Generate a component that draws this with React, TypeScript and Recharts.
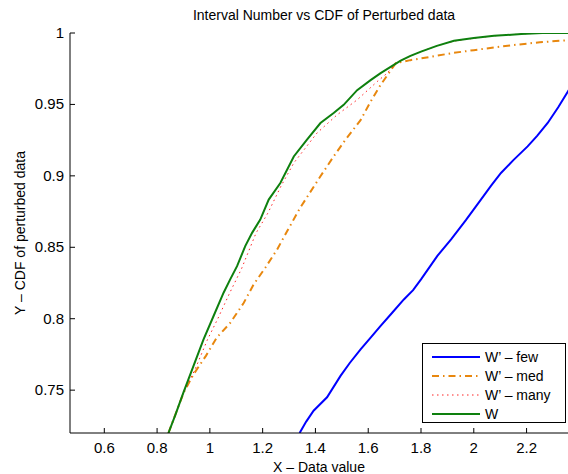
import { Line, LineChart, XAxis, YAxis } from "recharts"

const xTicks = [0.6, 0.8, 1, 1.2, 1.4, 1.6, 1.8, 2, 2.2]
const yTicks = [0.75, 0.8, 0.85, 0.9, 0.95, 1]

const fewData = [
  { x: 1.34, y: 0.72 }, { x: 1.365, y: 0.728 }, { x: 1.393, y: 0.7356 }, { x: 1.444, y: 0.745 },
  { x: 1.495, y: 0.76 }, { x: 1.53, y: 0.769 }, { x: 1.571, y: 0.7786 }, { x: 1.61, y: 0.787 },
  { x: 1.647, y: 0.795 }, { x: 1.69, y: 0.804 }, { x: 1.735, y: 0.8135 }, { x: 1.77, y: 0.82 },
  { x: 1.8, y: 0.8275 }, { x: 1.862, y: 0.844 }, { x: 1.914, y: 0.8555 }, { x: 1.97, y: 0.869 },
  { x: 2.027, y: 0.8834 }, { x: 2.065, y: 0.893 }, { x: 2.103, y: 0.902 }, { x: 2.15, y: 0.911 },
  { x: 2.204, y: 0.9206 }, { x: 2.24, y: 0.928 }, { x: 2.28, y: 0.937 }, { x: 2.32, y: 0.948 },
  { x: 2.36, y: 0.96 },
]

const medData = [
  { x: 0.843, y: 0.72 }, { x: 0.9, y: 0.748 }, { x: 0.938, y: 0.761 }, { x: 0.985, y: 0.774 },
  { x: 1.027, y: 0.787 }, { x: 1.077, y: 0.797 }, { x: 1.128, y: 0.811 }, { x: 1.166, y: 0.824 },
  { x: 1.21, y: 0.8357 }, { x: 1.255, y: 0.8485 }, { x: 1.292, y: 0.861 }, { x: 1.34, y: 0.877 },
  { x: 1.419, y: 0.8997 }, { x: 1.469, y: 0.9136 }, { x: 1.514, y: 0.9253 }, { x: 1.571, y: 0.939 },
  { x: 1.609, y: 0.952 }, { x: 1.647, y: 0.9637 }, { x: 1.691, y: 0.9753 }, { x: 1.705, y: 0.979 },
  { x: 1.76, y: 0.981 }, { x: 1.838, y: 0.9834 }, { x: 1.92, y: 0.986 }, { x: 2.0, y: 0.988 },
  { x: 2.08, y: 0.99 }, { x: 2.153, y: 0.9916 }, { x: 2.25, y: 0.9935 }, { x: 2.36, y: 0.995 },
]

const manyData = [
  { x: 0.843, y: 0.72 }, { x: 0.9, y: 0.748 }, { x: 0.945, y: 0.765 }, { x: 0.99, y: 0.785 },
  { x: 1.03, y: 0.8 }, { x: 1.075, y: 0.818 }, { x: 1.12, y: 0.835 }, { x: 1.175, y: 0.86 },
  { x: 1.22, y: 0.874 }, { x: 1.27, y: 0.893 }, { x: 1.318, y: 0.909 }, { x: 1.406, y: 0.93 },
  { x: 1.482, y: 0.9427 }, { x: 1.558, y: 0.9532 }, { x: 1.634, y: 0.966 }, { x: 1.672, y: 0.9719 },
  { x: 1.7, y: 0.978 }, { x: 1.723, y: 0.9807 }, { x: 1.76, y: 0.984 }, { x: 1.8, y: 0.987 },
  { x: 1.86, y: 0.991 }, { x: 1.925, y: 0.9943 }, { x: 2.0, y: 0.9963 }, { x: 2.077, y: 0.998 },
  { x: 2.18, y: 0.9993 }, { x: 2.26, y: 1.0 }, { x: 2.36, y: 1.0 },
]

const wData = [
  { x: 0.843, y: 0.72 }, { x: 0.87, y: 0.733 }, { x: 0.9, y: 0.7484 }, { x: 0.938, y: 0.767 },
  { x: 0.976, y: 0.7856 }, { x: 1.014, y: 0.8019 }, { x: 1.052, y: 0.8182 }, { x: 1.077, y: 0.8275 },
  { x: 1.103, y: 0.8368 }, { x: 1.134, y: 0.8508 }, { x: 1.16, y: 0.8601 }, { x: 1.191, y: 0.8694 },
  { x: 1.223, y: 0.8834 }, { x: 1.267, y: 0.895 }, { x: 1.318, y: 0.9136 }, { x: 1.368, y: 0.9253 },
  { x: 1.419, y: 0.937 }, { x: 1.469, y: 0.944 }, { x: 1.507, y: 0.9497 }, { x: 1.558, y: 0.96 },
  { x: 1.609, y: 0.967 }, { x: 1.647, y: 0.9719 }, { x: 1.697, y: 0.9777 }, { x: 1.723, y: 0.9807 },
  { x: 1.76, y: 0.984 }, { x: 1.8, y: 0.987 }, { x: 1.86, y: 0.991 }, { x: 1.925, y: 0.9946 },
  { x: 2.0, y: 0.9965 }, { x: 2.077, y: 0.998 }, { x: 2.18, y: 0.9993 }, { x: 2.26, y: 1.0 },
  { x: 2.36, y: 1.0 },
]

const series = [
  { name: "W\u2019 \u2013 few", data: fewData, color: "#0000ff", width: 2, dash: undefined },
  { name: "W\u2019 \u2013 med", data: medData, color: "#e8870e", width: 2, dash: "7 4 1.5 4" },
  { name: "W\u2019 \u2013 many", data: manyData, color: "#ff2222", width: 1, dash: "1.5 3.5" },
  { name: "W", data: wData, color: "#0e800e", width: 2, dash: undefined },
]

const font = "'Liberation Sans', Arial, Helvetica, sans-serif"

const BottomTick = (props: any) => {
  const { x, y, payload } = props
  return (
    <g>
      <line x1={x} y1={y} x2={x} y2={y - 5} stroke="#000" />
      <text x={x} y={y + 20} textAnchor="middle" fontSize={15} fill="#000" fontFamily={font}>
        {payload.value}
      </text>
    </g>
  )
}

const TopTick = (props: any) => {
  const { x, y } = props
  return <line x1={x} y1={y} x2={x} y2={y + 5} stroke="#000" />
}

const LeftTick = (props: any) => {
  const { x, y, payload } = props
  return (
    <g>
      <line x1={x} y1={y} x2={x + 5} y2={y} stroke="#000" />
      <text x={x - 6} y={y + 5} textAnchor="end" fontSize={15} fill="#000" fontFamily={font}>
        {payload.value}
      </text>
    </g>
  )
}

export default function App() {
  return (
    <div style={{ position: "absolute", left: 0, top: 0, width: 568, height: 474, background: "#fff", fontFamily: font }}>
      <div style={{ position: "absolute", left: 0, width: 648, top: 7, textAlign: "center", fontSize: 14, color: "#000" }}>
        Interval Number vs CDF of Perturbed data
      </div>
      <LineChart width={568} height={474} margin={{ top: 33, right: 0, bottom: 0, left: 0 }}>
        <XAxis
          xAxisId="b"
          dataKey="x"
          type="number"
          domain={[0.47, 2.357]}
          allowDataOverflow
          ticks={xTicks}
          height={41}
          tickSize={0}
          tickMargin={0}
          tick={<BottomTick />}
          axisLine={{ stroke: "#000" }}
          label={{ value: "X \u2013 Data value", position: "insideBottom", offset: 2, fontSize: 14, fill: "#000", fontFamily: font }}
        />
        <XAxis
          xAxisId="t"
          orientation="top"
          dataKey="x"
          type="number"
          domain={[0.47, 2.357]}
          allowDataOverflow
          ticks={xTicks}
          height={0}
          tickSize={0}
          tickMargin={0}
          tick={<TopTick />}
          axisLine={{ stroke: "#000" }}
        />
        <YAxis
          type="number"
          domain={[0.72, 1]}
          allowDataOverflow
          ticks={yTicks}
          width={70}
          tickSize={0}
          tickMargin={0}
          tick={<LeftTick />}
          axisLine={{ stroke: "#000" }}
          label={{ value: "Y \u2013 CDF of perturbed data", angle: -90, position: "insideLeft", offset: 20, fontSize: 14, fill: "#000", fontFamily: font, style: { textAnchor: "middle" } }}
        />
        {series.map((s) => (
          <Line
            key={s.name}
            xAxisId="b"
            data={s.data}
            dataKey="y"
            type="linear"
            stroke={s.color}
            strokeWidth={s.width}
            strokeDasharray={s.dash}
            dot={false}
            isAnimationActive={false}
          />
        ))}
      </LineChart>
      <div
        style={{
          position: "absolute",
          left: 422,
          top: 343,
          width: 144,
          height: 80,
          border: "1px solid #000",
          background: "#fff",
          boxSizing: "border-box",
          paddingTop: 3,
        }}
      >
        {series.map((s) => (
          <div key={s.name} style={{ display: "flex", alignItems: "center", height: 19, fontSize: 14, color: "#000" }}>
            <svg width={62} height={19} style={{ display: "block" }}>
              <line x1={9} y1={10} x2={57} y2={10} stroke={s.color} strokeWidth={s.width} strokeDasharray={s.dash} />
            </svg>
            <span>{s.name}</span>
          </div>
        ))}
      </div>
    </div>
  )
}
